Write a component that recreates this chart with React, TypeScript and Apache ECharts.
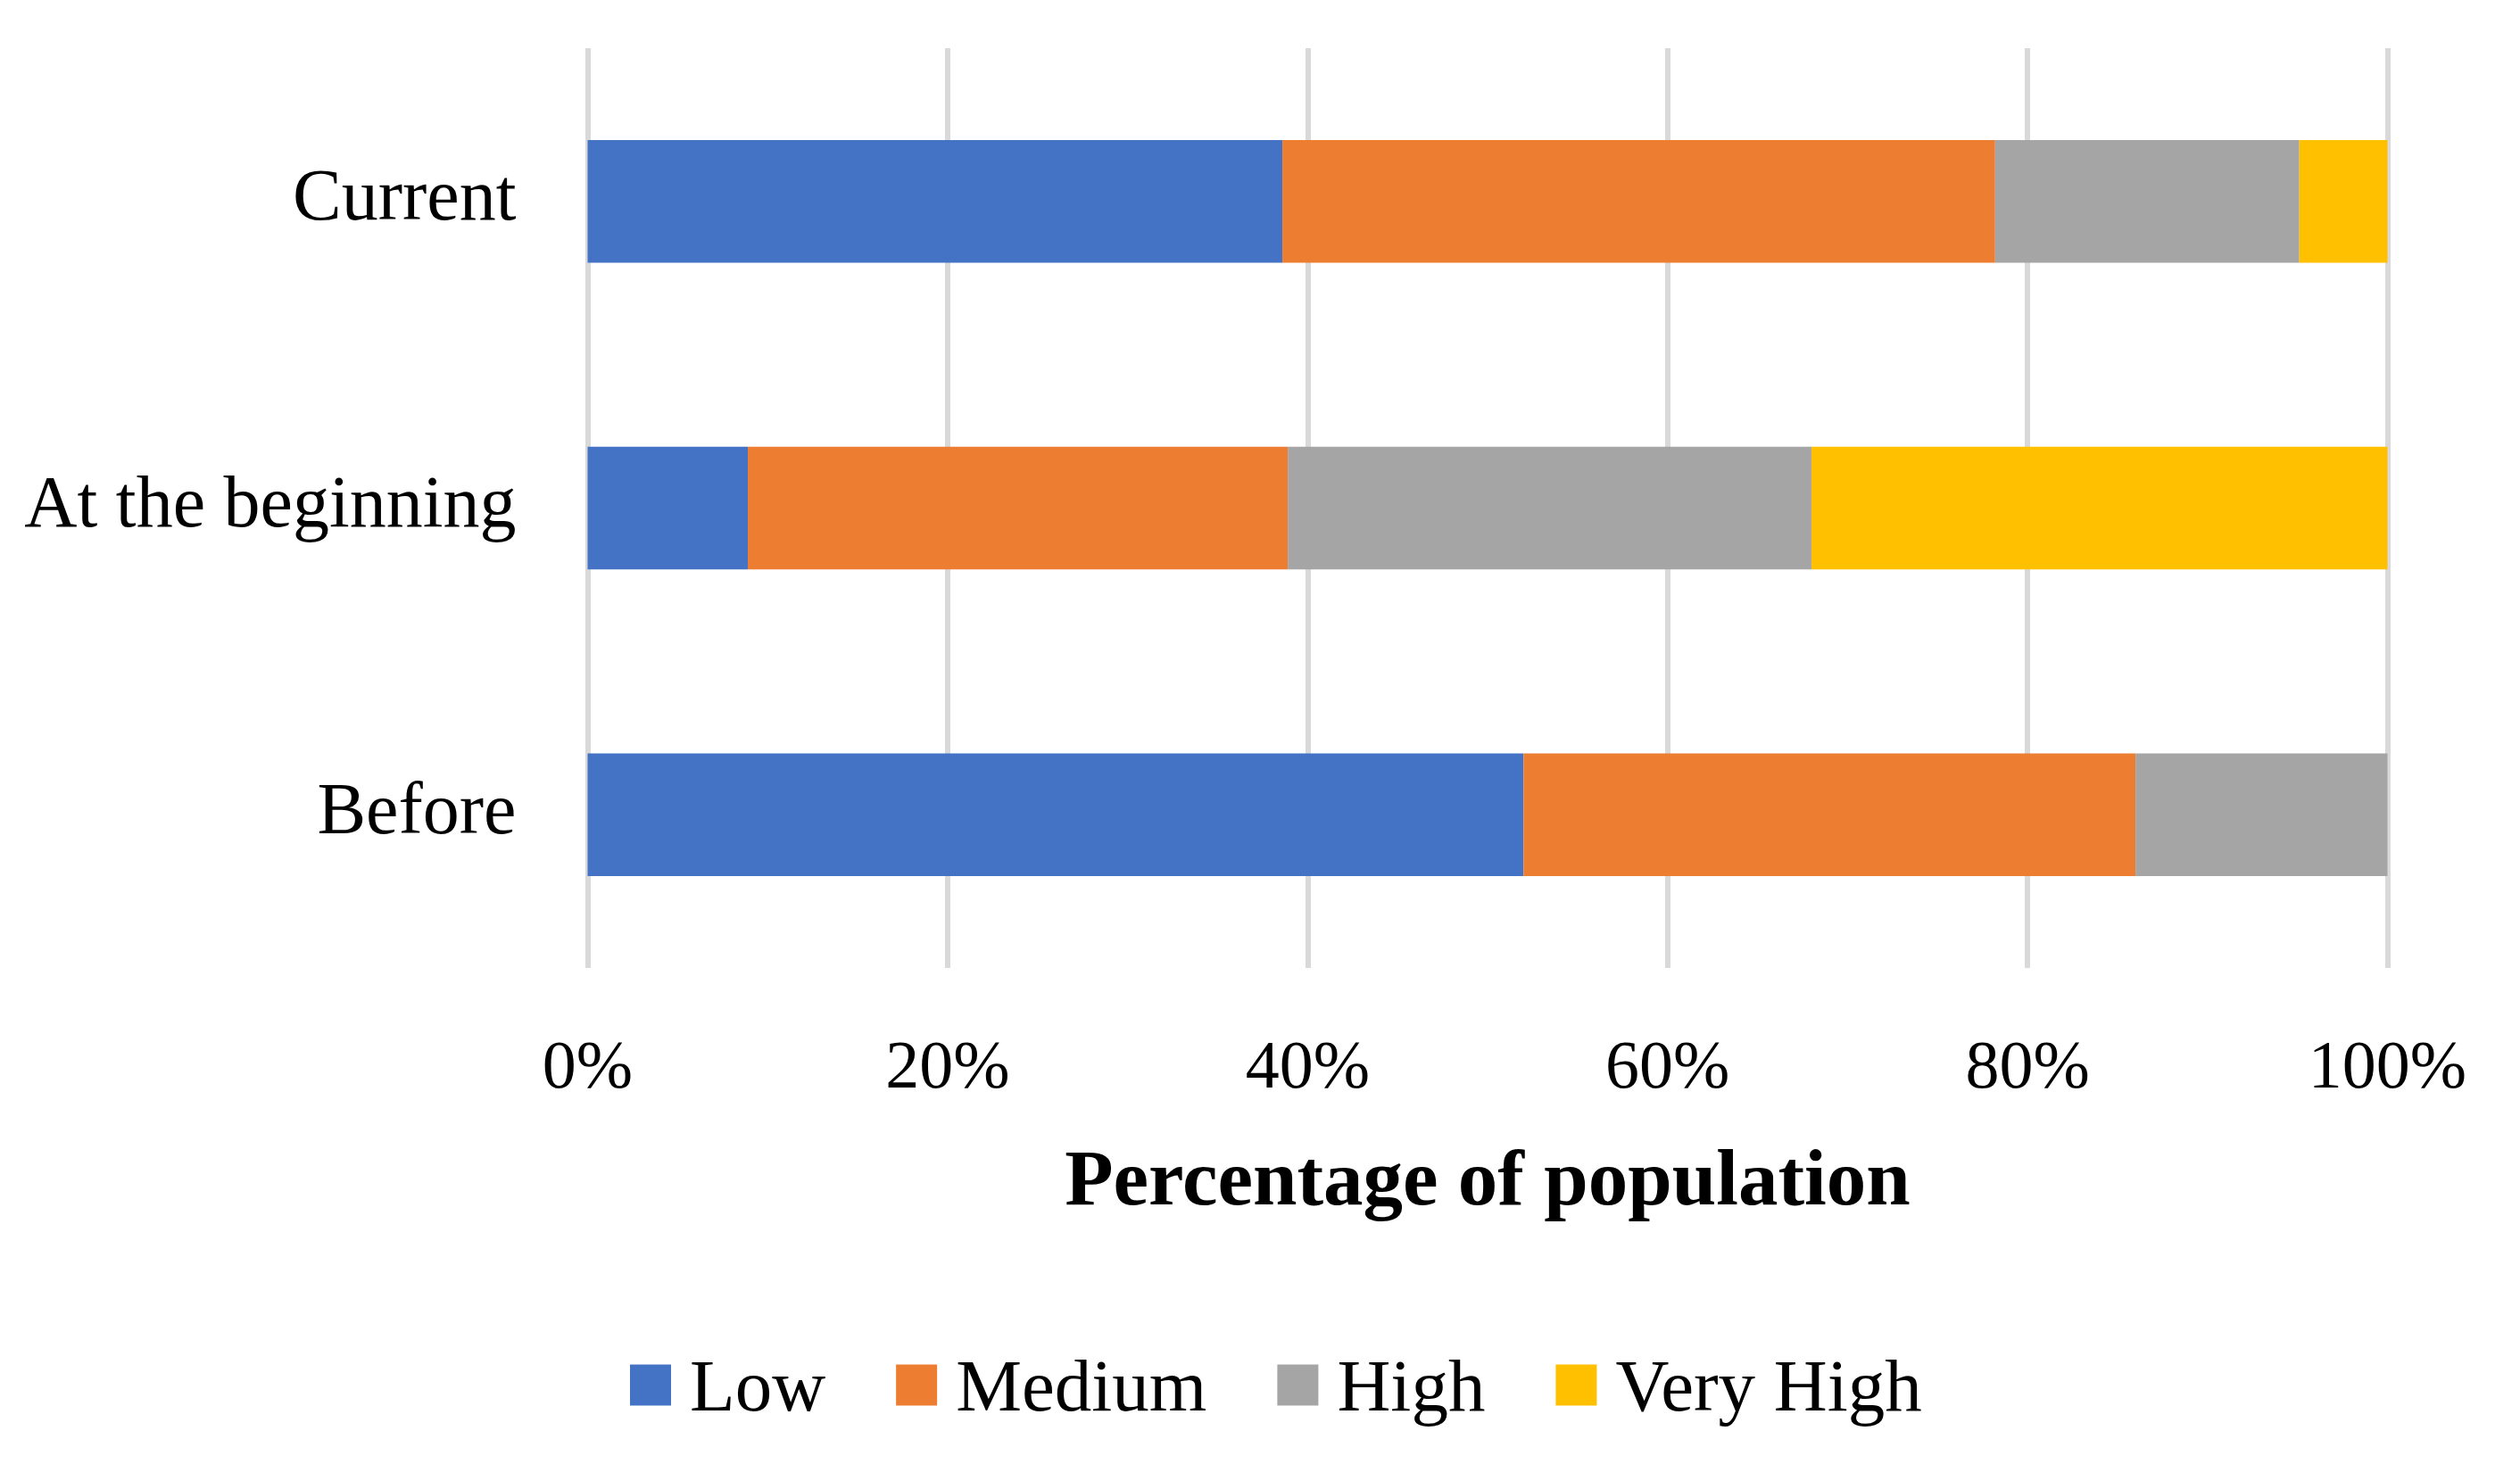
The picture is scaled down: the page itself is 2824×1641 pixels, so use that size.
import React, { useEffect, useRef } from "react";
import * as echarts from "echarts";

const categories = ["Before", "At the beginning", "Current"];
const seriesNames = ["Low", "Medium", "High", "Very High"];
const lowValues = [52.0, 8.9, 38.6];
const mediumValues = [34.0, 30.0, 39.6];
const highValues = [14.0, 29.1, 16.9];
const veryHighValues = [0.0, 32.0, 4.9];
const tickValues = [0, 20, 40, 60, 80, 100];
const colors = ["#4472C4", "#ED7D31", "#A5A5A5", "#FFC000"];

const FONT = "'Liberation Serif', 'Times New Roman', serif";

export default function App() {
  const ref = useRef<HTMLDivElement>(null);
  useEffect(() => {
    if (!ref.current) return;
    const chart = echarts.init(ref.current, undefined, { renderer: "svg" });
    const values = [lowValues, mediumValues, highValues, veryHighValues];
    chart.setOption({
      animation: false,
      backgroundColor: "#ffffff",
      textStyle: { fontFamily: FONT, color: "#000" },
      grid: { left: 658.5, right: 148.5, top: 54, bottom: 556, containLabel: false },
      xAxis: {
        type: "value",
        min: tickValues[0],
        max: tickValues[tickValues.length - 1],
        interval: 20,
        axisLine: { show: false },
        axisTick: { show: false },
        splitLine: { show: true, lineStyle: { color: "#D9D9D9", width: 6 } },
        axisLabel: {
          formatter: "{value}%",
          fontFamily: FONT,
          fontSize: 76,
          color: "#000",
          margin: 70,
        },
        name: "Percentage of population",
        nameLocation: "middle",
        nameGap: 190,
        nameTextStyle: { fontFamily: FONT, fontSize: 89, fontWeight: "bold", color: "#000" },
      },
      yAxis: {
        type: "category",
        data: categories,
        axisLine: { show: false },
        axisTick: { show: false },
        splitLine: { show: false },
        axisLabel: {
          fontFamily: FONT,
          fontSize: 82,
          color: "#000",
          margin: 80,
          formatter: (v: string) => `{c|${v}}`,
          rich: { c: { fontFamily: FONT, fontSize: 82, color: "#000", padding: [0, 0, 14, 0] } },
        },
      },
      legend: {
        data: seriesNames,
        left: 701,
        top: 1506,
        icon: "rect",
        itemWidth: 46,
        itemHeight: 46,
        itemGap: 79,
        textStyle: { fontFamily: FONT, fontSize: 83, color: "#000", padding: [0, 0, 0, 16] },
      },
      series: seriesNames.map((name, i) => ({
        name,
        type: "bar",
        stack: "total",
        barCategoryGap: "60%",
        itemStyle: { color: colors[i] },
        data: values[i],
      })),
    });
    return () => chart.dispose();
  }, []);
  return (
    <div
      ref={ref}
      style={{ position: "fixed", left: 0, top: 0, width: 2824, height: 1641, background: "#fff" }}
    />
  );
}
